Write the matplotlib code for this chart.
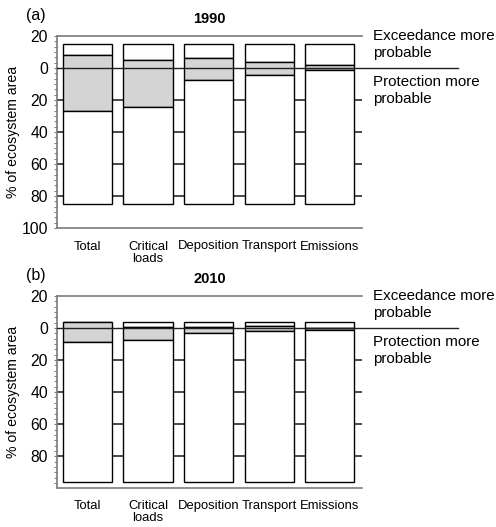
import numpy as n
import matplotlib
matplotlib.use("Agg")
import matplotlib.pyplot as plt
from matplotlib.ticker import MultipleLocator, FuncFormatter, FixedLocator

plt.rcParams['font.family'] = ['Liberation Sans', 'DejaVu Sans']

cats = ["Total", "Critical\nloads", "Deposition", "Transport", "Emissions"]

# 1990: bar top, top of the uncertain (grey) band, bottom of the grey band
top_1990 = 15.0
upper_1990 = [8.0, 5.0, 6.0, 3.8, 1.7]
lower_1990 = [-27.0, -24.2, -7.4, -4.3, -1.4]

# 2010
top_2010 = 3.7
upper_2010 = [3.7, 0.6, 0.5, 1.0, 0.3]
lower_2010 = [-8.9, -7.4, -3.2, -1.7, -1.0]

yticks_1990 = [20, 0, -20, -40, -60, -80, -100]
yticks_2010 = [20, 0, -20, -40, -60, -80]

W, H = 496, 527
fig = plt.figure(figsize=(W/100.0, H/100.0), dpi=100)

grey = '#d4d4d4'
gridc = '#3c3c3c'
spinec = '#7a7a7a'


def panel(rect, top, upper, lower, ymin, yticks, year, letter):
    ax = fig.add_axes(rect)
    x = n.arange(len(cats))
    top = n.repeat(top, len(cats))
    upper = n.array(upper)
    lower = n.array(lower)
    w = 0.81
    kw = dict(width=w, edgecolor='black', linewidth=1.0, zorder=3)
    # exceedance certain / uncertain / protection certain
    ax.bar(x, top-upper, bottom=upper, color='white', **kw)
    ax.bar(x, upper-lower, bottom=lower, color=grey, **kw)
    ax.bar(x, lower-(top-100.0), bottom=top-100.0, color='white', **kw)

    for g in yticks:
        if g < 0 and g > ymin:
            ax.axhline(g, color=gridc, lw=1.3, zorder=1)
    ax.axhline(0, xmin=0, xmax=1.315, color='#202020', lw=1.0, zorder=5, clip_on=False)

    ax.set_xlim(-0.504, 4.537)
    ax.set_ylim(ymin, 20)
    ax.set_xticks(x)
    ax.set_xticklabels(cats, fontsize=9.4, linespacing=1.0)
    ax.tick_params(axis='x', length=0, pad=9)

    ax.yaxis.set_major_locator(FixedLocator(yticks))
    ax.yaxis.set_minor_locator(MultipleLocator(20.0/6.0))
    ax.yaxis.set_major_formatter(FuncFormatter(lambda v, p: "%d" % abs(round(v))))
    ax.tick_params(axis='y', which='major', direction='out', length=2.5, width=0.8,
                   color=spinec, labelsize=11.3, pad=4)
    ax.tick_params(axis='y', which='minor', direction='out', length=2, width=0.7, color=spinec)

    ax.spines['right'].set_visible(False)
    for s in ['left', 'top', 'bottom']:
        ax.spines[s].set_color(spinec)
        ax.spines[s].set_linewidth(1.2)

    ax.set_ylabel("% of ecosystem area", fontsize=10.2)
    ax.yaxis.set_label_coords(-0.12, 0.5)
    ax.set_title(year, fontsize=10.5, fontweight='bold', pad=9.5)
    ax.text(-0.07, 1.105, letter, transform=ax.transAxes, fontsize=11.5,
            ha='center', va='center')
    ax.text(1.035, 14.8, "Exceedance more\nprobable", transform=ax.get_yaxis_transform(),
            fontsize=10.9, ha='left', va='center', linespacing=1.25, clip_on=False)
    ax.text(1.035, -14.2, "Protection more\nprobable", transform=ax.get_yaxis_transform(),
            fontsize=10.9, ha='left', va='center', linespacing=1.25, clip_on=False)
    return ax


l = 57.0/W
wd = 305.0/W
panel([l, 1-228.0/H, wd, 192.0/H], top_1990, upper_1990, lower_1990,
      -100, yticks_1990, "1990", "(a)")
panel([l, 1-487.5/H, wd, 191.5/H], top_2010, upper_2010, lower_2010,
      -99.5, yticks_2010, "2010", "(b)")

plt.savefig("out.png", dpi=100)
